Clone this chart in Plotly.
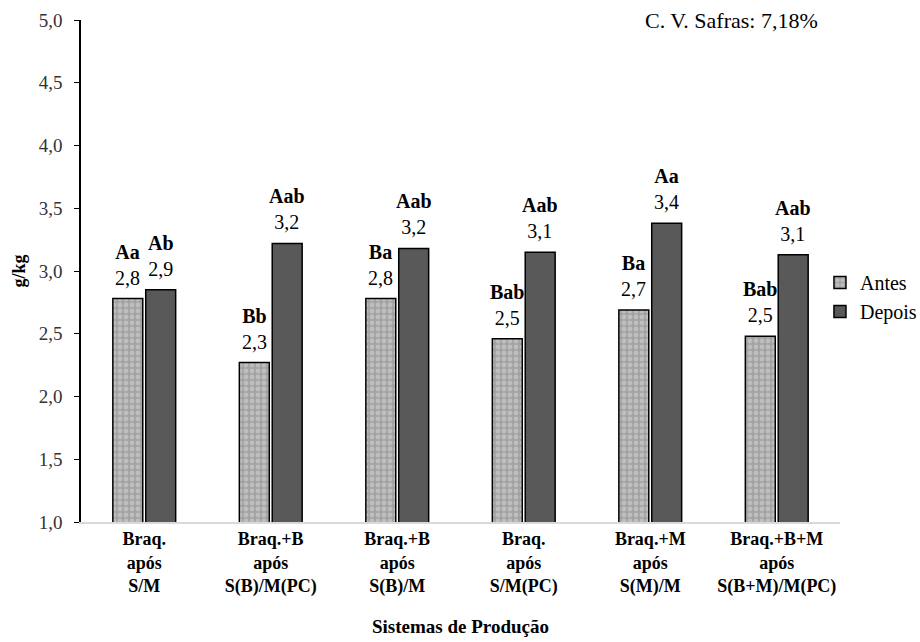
import plotly.graph_objects as go

categories = ["Braq.<br>após<br>S/M", "Braq.+B<br>após<br>S(B)/M(PC)", "Braq.+B<br>após<br>S(B)/M",
              "Braq.<br>após<br>S/M(PC)", "Braq.+M<br>após<br>S(M)/M", "Braq.+B+M<br>após<br>S(B+M)/M(PC)"]
antes = [2.78, 2.27, 2.78, 2.46, 2.69, 2.48]
depois = [2.85, 3.22, 3.18, 3.15, 3.38, 3.13]
letras_antes = ["Aa", "Bb", "Ba", "Bab", "Ba", "Bab"]
letras_depois = ["Ab", "Aab", "Aab", "Aab", "Aa", "Aab"]
yticks = [1.0, 1.5, 2.0, 2.5, 3.0, 3.5, 4.0, 4.5, 5.0]

FF = "Liberation Serif"
W, H = 920, 642
ML, MR, MT, MB = 81, 80, 20, 120
BARGAP, GROUPGAP = 0.48, 0.09

def lab(letter, v):
    return f"<b>{letter}</b><br>{v:.1f}".replace(".", ",")

fig = go.Figure()
fig.add_trace(go.Bar(
    name="Antes", x=categories, y=antes,
    marker=dict(color="#a6a6a6", line=dict(color="black", width=1.5),
                pattern=dict(shape=".", fgcolor="#dadada", bgcolor="#a3a3a3", size=6, solidity=0.5)),
))
fig.add_trace(go.Bar(
    name="Depois", x=categories, y=depois,
    marker=dict(color="#595959", line=dict(color="black", width=1.5)),
))

# value labels above bars (offset sideways to sit over each bar of the group)
slot = (W - ML - MR) / len(categories)
off = slot * (1 - BARGAP) / 4
annotations = []
for cat, v, l in zip(categories, antes, letras_antes):
    annotations.append(dict(x=cat, y=v, xref="x", yref="y", text=lab(l, v), showarrow=False,
                            xshift=-off, yshift=8, yanchor="bottom",
                            font=dict(family=FF, size=20, color="black")))
for cat, v, l in zip(categories, depois, letras_depois):
    annotations.append(dict(x=cat, y=v, xref="x", yref="y", text=lab(l, v), showarrow=False,
                            xshift=off, yshift=8, yanchor="bottom",
                            font=dict(family=FF, size=20, color="black")))
annotations.append(dict(text="C. V. Safras: 7,18%", x=0.9736, xref="paper", xanchor="right",
                        y=1.0, yref="paper", yanchor="middle",
                        showarrow=False, font=dict(family=FF, size=22, color="black")))

fig.update_layout(
    width=W, height=H,
    margin=dict(l=ML, r=MR, t=MT, b=MB, autoexpand=False),
    paper_bgcolor="white", plot_bgcolor="white",
    separators=",.",
    barmode="group", bargap=BARGAP, bargroupgap=GROUPGAP,
    font=dict(family=FF, color="black", size=18),
    showlegend=True,
    legend=dict(x=0.9736, xanchor="left", y=0.448, yanchor="middle",
                font=dict(family=FF, size=20, color="black"),
                itemwidth=30, tracegroupgap=4, bgcolor="rgba(0,0,0,0)"),
    xaxis=dict(showline=True, linecolor="#d9d9d9", linewidth=1.5, ticks="",
               tickfont=dict(family=FF, size=18, color="black", weight="bold"),
               title=dict(text="<b>Sistemas de Produção</b>", font=dict(family=FF, size=19), standoff=24)),
    yaxis=dict(range=[1.0, 5.0], tickvals=yticks, tickformat=".1f", showgrid=False,
               showline=True, linecolor="black", linewidth=1.5, ticks="outside", ticklen=5,
               tickcolor="black", zeroline=False, ticklabelstandoff=8,
               tickfont=dict(family=FF, size=19, color="#333"),
               title=dict(text="<b>g/kg</b>", font=dict(family=FF, size=18), standoff=8)),
    annotations=annotations,
)
fig.write_html("out.html")
